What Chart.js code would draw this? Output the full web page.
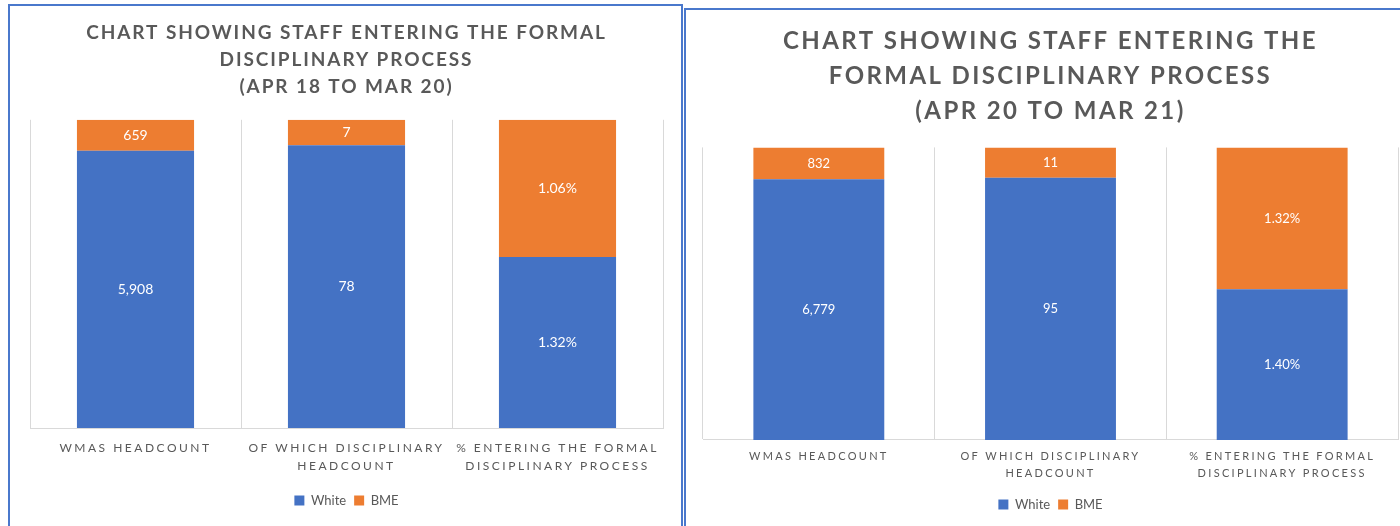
<!DOCTYPE html>
<html>
<head>
<meta charset="utf-8">
<script src="https://cdn.jsdelivr.net/npm/chart.js@4.4.1/dist/chart.umd.min.js"></script>
<style>
  html, body { margin: 0; padding: 0; background: #fff; width: 1400px; height: 526px; overflow: hidden; }
  .panel { position: absolute; box-sizing: border-box; }
  #p1 { left: 8px; top: 4px; width: 675px; height: 540px; border: 2px solid #4a78cc; }
  #p2 { left: 684px; top: 8px; width: 740px; height: 540px; border: 2px solid #4a78cc; }
  .wrap { position: absolute; }
  #w1 { left: 10px; top: 6px; width: 671px; height: 520px; }
  #w2 { left: 686px; top: 10px; width: 714px; height: 516px; }
</style>
</head>
<body>
<div class="panel" id="p1"></div>
<div class="panel" id="p2"></div>
<div class="wrap" id="w1"><canvas id="chart1"></canvas></div>
<div class="wrap" id="w2"><canvas id="chart2"></canvas></div>
<script>
// categories and series
const categories = [
    ['WMAS HEADCOUNT'],
    ['OF WHICH DISCIPLINARY', 'HEADCOUNT'],
    ['% ENTERING THE FORMAL', 'DISCIPLINARY PROCESS']
];
const seriesNames = ['White', 'BME'];

// Apr 18 to Mar 20
const white1 = [5908, 78, 1.32];
const bme1 = [659, 7, 1.06];

// Apr 20 to Mar 21
const white2 = [6779, 95, 1.40];
const bme2 = [832, 11, 1.32];

const title1 = ['CHART SHOWING STAFF ENTERING THE FORMAL', 'DISCIPLINARY PROCESS', '(APR 18 TO MAR 20)'];
const title2 = ['CHART SHOWING STAFF ENTERING THE', 'FORMAL DISCIPLINARY PROCESS', '(APR 20 TO MAR 21)'];

const BLUE = '#4472C4';
const ORANGE = '#ED7D31';
const GREY_TEXT = '#595959';
const FONT = 'Lato, "Open Sans", sans-serif';

// 100% stacked: share of each category total
function share(a, b) {
    return a.map((v, i) => v / (v + b[i]) * 100);
}

function formatValue(v, i) {
    if (i === 2) return v.toFixed(2) + '%';
    return v.toLocaleString('en-GB');
}

// letter spacing for title and axis labels (Excel style)
const spacingPlugin = {
    id: 'spacing',
    beforeDraw(chart) {
        const sp = chart.options.plugins.spacing;
        const sc = chart.scales.x;
        if (sc && !sc._spaced) {
            const orig = sc.drawLabels;
            sc.drawLabels = function (area) {
                this.ctx.save();
                this.ctx.letterSpacing = sp.ticks;
                orig.call(this, area);
                this.ctx.restore();
            };
            sc._spaced = true;
        }
        const tb = chart.titleBlock;
        if (tb && !tb._spaced) {
            const origT = tb.draw;
            tb.draw = function () {
                this.ctx.save();
                this.ctx.letterSpacing = sp.title;
                origT.call(this);
                this.ctx.restore();
            };
            tb._spaced = true;
        }
    }
};

// values written in the middle of each segment
const segmentLabels = {
    id: 'segmentLabels',
    afterDatasetsDraw(chart) {
        const ctx = chart.ctx;
        const o = chart.options.plugins.segmentLabels;
        ctx.save();
        ctx.font = o.size + 'px ' + FONT;
        ctx.fillStyle = '#ffffff';
        ctx.textAlign = 'center';
        ctx.textBaseline = 'middle';
        chart.data.datasets.forEach((ds, di) => {
            chart.getDatasetMeta(di).data.forEach((bar, i) => {
                const y = (bar.y + bar.base) / 2;
                ctx.fillText(formatValue(o.raw[di][i], i), bar.x, y);
            });
        });
        ctx.restore();
    }
};

function makeChart(id, white, bme, title, opts) {
    const ctx = document.getElementById(id).getContext('2d');
    return new Chart(ctx, {
        type: 'bar',
        data: {
            labels: categories,
            datasets: [
                { label: seriesNames[0], data: share(white, bme), backgroundColor: BLUE, barPercentage: opts.barPct, categoryPercentage: 1 },
                { label: seriesNames[1], data: share(bme, white), backgroundColor: ORANGE, barPercentage: opts.barPct, categoryPercentage: 1 }
            ]
        },
        options: {
            responsive: true,
            maintainAspectRatio: false,
            animation: false,
            layout: { padding: opts.padding },
            scales: {
                x: {
                    stacked: true,
                    grid: { color: '#d9d9d9', lineWidth: 1, drawTicks: false, offset: true },
                    border: { color: '#d9d9d9' },
                    ticks: { color: GREY_TEXT, font: { family: FONT, size: opts.tickSize, lineHeight: opts.tickLH }, padding: opts.tickPad, maxRotation: 0, autoSkip: false }
                },
                y: {
                    stacked: true,
                    display: false,
                    min: 0,
                    max: 100
                }
            },
            plugins: {
                spacing: { title: opts.titleSpacing, ticks: opts.tickSpacing },
                segmentLabels: { raw: [white, bme], size: opts.labelSize },
                title: {
                    display: true,
                    text: title,
                    color: GREY_TEXT,
                    font: { family: FONT, size: opts.titleSize, weight: 'bold', lineHeight: opts.titleLH },
                    padding: opts.titlePad
                },
                legend: {
                    position: 'bottom',
                    labels: { boxWidth: 10, boxHeight: 10, color: GREY_TEXT, font: { family: FONT, size: 13 }, padding: opts.legendPad }
                },
                tooltip: { enabled: false }
            }
        },
        plugins: [spacingPlugin, segmentLabels]
    });
}

makeChart('chart1', white1, bme1, title1, {
    barPct: 0.555,
    padding: { left: 20, right: 18, top: 14, bottom: 9 },
    tickSize: 12, tickLH: 1.5, tickPad: 11, tickSpacing: '2.5px',
    labelSize: 14, legendPad: 8,
    titleSize: 19, titleLH: 1.4, titleSpacing: '1.9px', titlePad: { top: 0, bottom: 20 }
});

makeChart('chart2', white2, bme2, title2, {
    barPct: 0.565,
    padding: { left: 17, right: 2, top: 14, bottom: 5 },
    tickSize: 11, tickLH: 1.55, tickPad: 8, tickSpacing: '2.3px',
    labelSize: 13, legendPad: 8,
    titleSize: 24, titleLH: 1.45, titleSpacing: '2.4px', titlePad: { top: 0, bottom: 19 }
});
</script>
</body>
</html>
